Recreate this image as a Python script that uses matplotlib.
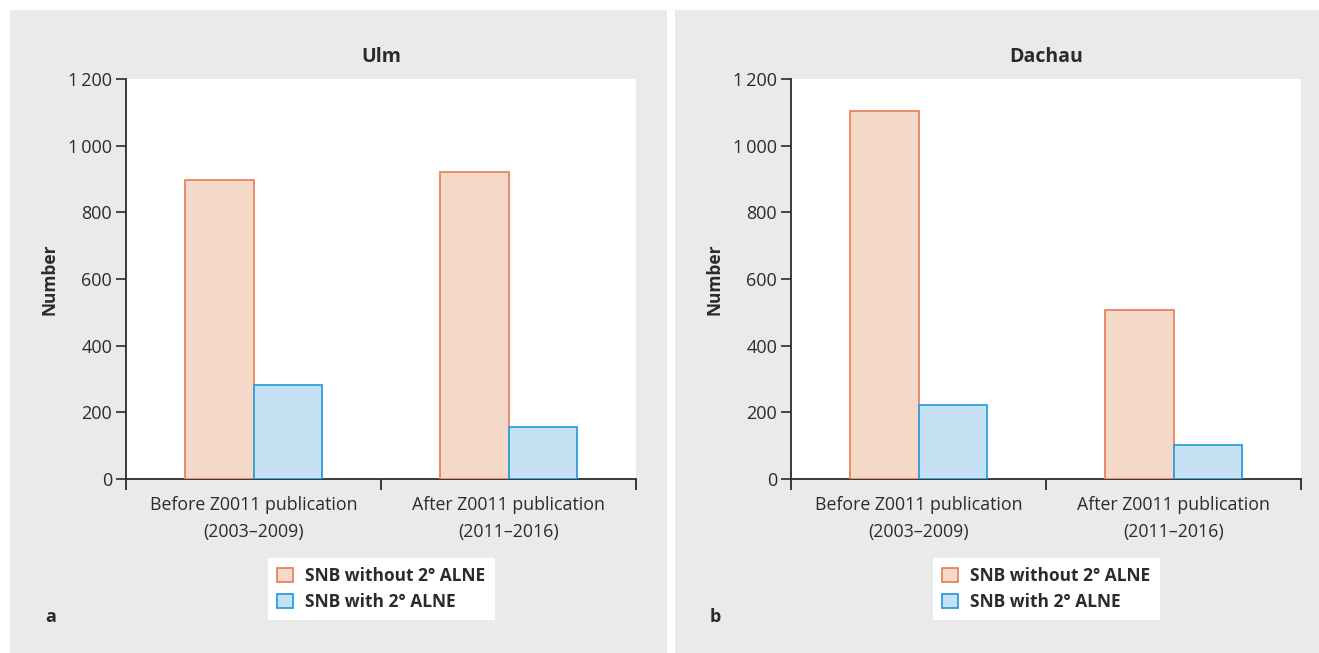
import numpy as np
import matplotlib
matplotlib.use('Agg')
import matplotlib.pyplot as plt
from matplotlib.patches import Rectangle, Patch

plt.rcParams['font.family'] = ['Open Sans', 'DejaVu Sans']

# ── data ──
categories = ['Before Z0011 publication\n(2003\u20132009)', 'After Z0011 publication\n(2011\u20132016)']
series_names = ['SNB without 2\u00b0 ALNE', 'SNB with 2\u00b0 ALNE']
ulm_without = [897, 922]
ulm_with = [283, 156]
dachau_without = [1104, 506]
dachau_with = [223, 103]
yticks = [0, 200, 400, 600, 800, 1000, 1200]
ytick_labels = ['0', '200', '400', '600', '800', '1\u2009000', '1\u2009200']

W, H = 1319, 653
fig = plt.figure(figsize=(W / 100, H / 100), dpi=100, facecolor='white')

BG = '#E9EAEA'
# grey panel backgrounds (drawn below the axes)
for x0, x1 in [(10, 667), (675, 1319)]:
    fig.patches.append(Rectangle((x0 / W, 0), (x1 - x0) / W, (H - 10) / H,
                                 transform=fig.transFigure, facecolor=BG,
                                 edgecolor='none', zorder=-10))

fill_c = ['#F5D9C8', '#C6E1F3']
edge_c = ['#E8835F', '#2A9FDC']
ink = '#2B2B2B'
bw = 0.267

panels = [
    ('Ulm', ulm_without, ulm_with, 126, 'a', 45),
    ('Dachau', dachau_without, dachau_with, 791, 'b', 710),
]

for title, s1, s2, left_px, tag, tag_x in panels:
    ax = fig.add_axes([left_px / W, (H - 479) / H, 510 / W, 400 / H])
    ax.set_facecolor('white')
    x = np.arange(len(categories))
    ax.bar(x - bw / 2, s1, width=bw, color=fill_c[0], edgecolor=edge_c[0], linewidth=1.3, zorder=3)
    ax.bar(x + bw / 2, s2, width=bw, color=fill_c[1], edgecolor=edge_c[1], linewidth=1.3, zorder=3)
    ax.set_xlim(-0.5, 1.5)
    ax.set_ylim(0, 1200)
    for sp in ['top', 'right']:
        ax.spines[sp].set_visible(False)
    for sp in ['left', 'bottom']:
        ax.spines[sp].set_color(ink)
        ax.spines[sp].set_linewidth(1.3)
    ax.set_yticks(yticks)
    ax.set_yticklabels(ytick_labels, fontsize=13, color=ink)
    ax.tick_params(axis='y', length=7, width=1.2, color=ink, pad=3)
    ax.set_xticks(x)
    ax.set_xticklabels(categories, fontsize=12.8, color=ink, linespacing=1.65)
    ax.tick_params(axis='x', which='major', length=0, pad=12)
    ax.set_xticks([-0.5, 0.5, 1.5], minor=True)
    ax.tick_params(axis='x', which='minor', length=8, width=1.3, color=ink, direction='out')
    ax.set_title(title, fontsize=14, fontweight='bold', color=ink, pad=12)
    ax.set_ylabel('Number', fontsize=12.5, fontweight='bold', color=ink)
    ax.yaxis.set_label_coords(-0.133, 0.5)

    handles = [Patch(facecolor=fill_c[i], edgecolor=edge_c[i], linewidth=1.3, label=series_names[i])
               for i in range(2)]
    cx = (left_px + 255) / W
    leg = fig.legend(handles=handles, loc='center', bbox_to_anchor=(cx, (H - 589) / H),
                     bbox_transform=fig.transFigure, frameon=True, fancybox=False,
                     framealpha=1, facecolor='white', edgecolor='none',
                     handlelength=0.9, handleheight=0.9, handletextpad=0.7,
                     labelspacing=0.45, borderpad=0.55, borderaxespad=0,
                     prop={'size': 12.5, 'weight': 'bold'})
    for t in leg.get_texts():
        t.set_color(ink)

    fig.text(tag_x / W, (H - 617) / H, tag, fontsize=13, fontweight='bold', color=ink,
             ha='left', va='center')

fig.savefig('out.png', dpi=100, facecolor='white')
